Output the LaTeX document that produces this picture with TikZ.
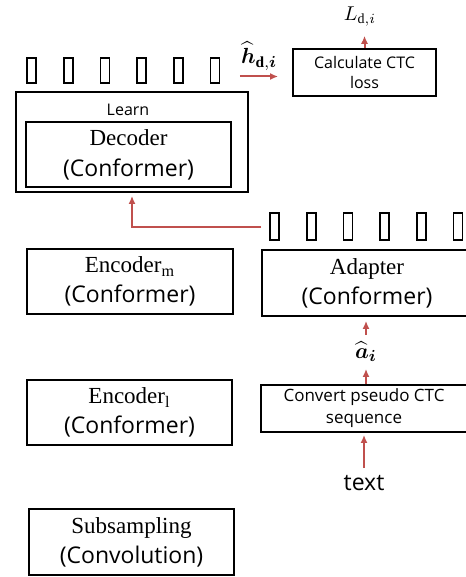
\documentclass[tikz,border=0pt]{standalone}
\usepackage{amsmath}
\usepackage{bm}
\usepackage{fontspec}
\setmainfont{Liberation Serif}
\newfontfamily\sansbox{Open Sans}
\usetikzlibrary{calc,arrows.meta}
\tikzset{>={Latex[length=4pt,width=3.5pt]}}
\definecolor{Arrowred}{RGB}{192,80,77}
\tikzset{
  box/.style={draw,line width=0.9pt,align=center,inner sep=0pt,font=\fontsize{11.5}{15}\selectfont},
  vec/.style={draw,line width=0.9pt,inner sep=0pt,minimum width=4.5pt,minimum height=12.5pt},
  redarrow/.style={->,Arrowred,line width=1pt}
}

\begin{document}
\begin{tikzpicture}[x=0.5pt,y=-0.5pt]
          \useasboundingbox (0,0) rectangle (465,577);
          % decoder side
          \foreach \i in {0,...,5} \node[vec] (h\i) at ({31.5+36.7*\i},70.5) {};
          \node[box,minimum width=116pt,minimum height=50pt] (learn) at (132,142) {};
          \node[font=\sansbox\fontsize{8}{10}\selectfont] (learntxt) at (128,110) {Learn};
          \node[box,minimum width=102.5pt,minimum height=32.5pt,font=\fontsize{11.5}{15.5}\selectfont] (dec) at (128.5,154.5) {Decoder\\{\sansbox (Conformer)}};
          \node[box,minimum width=71.5pt,minimum height=23.5pt,font=\sansbox\fontsize{8}{10}\selectfont] (loss) at (364.5,72.5) {Calculate CTC\\loss};
          \node[font=\fontsize{10}{12}\selectfont] (Lout) at (360,17) {\(L_{\mathrm{d},i}\)};
          \node[font=\fontsize{11}{13}\selectfont] (hhat) at (259,56) {\(\widehat{\bm{h}}_{\mathbf{d},\bm{i}}\)};
          \draw[redarrow,shorten <=9.75pt,shorten >=7pt] ([yshift=-3pt]h5.east) -- ([yshift=-3pt]h5.east -| loss.west);
          \draw[redarrow,shorten >=1pt] (loss.north) -- (loss.north |- Lout.south);
          % encoder side
          \node[box,minimum width=103pt,minimum height=32.5pt] (encm) at (130,281.5) {Encoder\(_\mathrm{m}\)\\{\sansbox (Conformer)}};
          \node[box,minimum width=102.5pt,minimum height=32.5pt] (encl) at (129.5,412.5) {Encoder\(_\mathrm{l}\)\\{\sansbox (Conformer)}};
          \node[box,minimum width=102.5pt,minimum height=33pt] (sub) at (131.5,542) {Subsampling\\{\sansbox (Convolution)}};
          % text side
          \foreach \i in {0,...,5} \node[vec,minimum height=13.5pt] (a\i) at ({274.5+36.7*\i},226.5) {};
          \node[box,minimum width=105pt,minimum height=33pt] (adapter) at (367,283) {Adapter\\{\sansbox (Conformer)}};
          \node[font=\fontsize{11}{13}\selectfont] (ahat) at (366,352) {\(\widehat{\bm{a}}_{\bm{i}}\)};
          \node[box,minimum width=103pt,minimum height=23.5pt,font=\sansbox\fontsize{8.5}{11}\selectfont] (convert) at (364,408.5) {Convert pseudo CTC\\sequence};
          \node[font=\sansbox\fontsize{11.5}{13}\selectfont] (txt) at (364,483) {text};
          \draw[redarrow,shorten >=2pt] (ahat.north) -- (ahat.north |- adapter.south);
          \draw[redarrow] (ahat.south |- convert.north) -- (ahat.south);
          \draw[redarrow,shorten >=1pt] (txt.north) -- (txt.north |- convert.south);
          \draw[redarrow,shorten <=4pt,shorten >=1.5pt] (a0.west) -| (learn.south);
    \end{tikzpicture}
\end{document}
